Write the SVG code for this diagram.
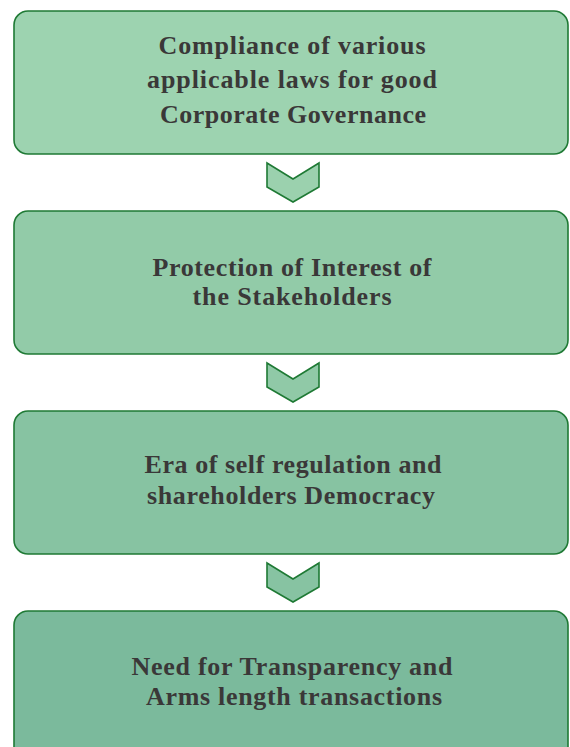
<svg xmlns="http://www.w3.org/2000/svg" width="570" height="747" viewBox="0 0 570 747">
  <style>
    .box { stroke: #1f7a35; stroke-width: 1.6; }
    .chev { stroke: #1f7a35; stroke-width: 1.6; stroke-linejoin: miter; }
    .lbl { font-family: "Liberation Serif", "Times New Roman", serif; font-weight: bold; font-size: 26px; fill: #3a3838; text-anchor: middle; }
  </style>
  <rect width="570" height="747" fill="#ffffff"/>

  <g id="step1">
    <rect class="box" x="14" y="11" width="554" height="143" rx="14" fill="#9dd3b0"/>
    <text class="lbl" x="292" y="54" textLength="267">Compliance of various</text>
    <text class="lbl" x="292" y="88" textLength="290">applicable laws for good</text>
    <text class="lbl" x="293" y="123" textLength="266">Corporate Governance</text>
  </g>

  <g id="step2">
    <rect class="box" x="14" y="211" width="554" height="143" rx="14" fill="#92cba8"/>
    <text class="lbl" x="292" y="276" textLength="279">Protection of Interest of</text>
    <text class="lbl" x="292" y="305" textLength="199">the Stakeholders</text>
  </g>

  <g id="step3">
    <rect class="box" x="14" y="411" width="554" height="143" rx="14" fill="#87c3a2"/>
    <text class="lbl" x="293" y="473" textLength="297">Era of self regulation and</text>
    <text class="lbl" x="291" y="504" textLength="288">shareholders Democracy</text>
  </g>

  <g id="step4">
    <rect class="box" x="14" y="611" width="554" height="150" rx="14" fill="#7bba9c"/>
    <text class="lbl" x="292" y="675" textLength="321">Need for Transparency and</text>
    <text class="lbl" x="294" y="705" textLength="296">Arms length transactions</text>
  </g>

  <g id="connectors">
    <polygon class="chev" points="267,163 293,179 319,163 319,187 293,202 267,187" fill="#9bd1ae"/>
    <polygon class="chev" points="267,363 293,379 319,363 319,387 293,402 267,387" fill="#90c9a7"/>
    <polygon class="chev" points="267,563 293,579 319,563 319,587 293,602 267,587" fill="#87c3a2"/>
  </g>
</svg>
